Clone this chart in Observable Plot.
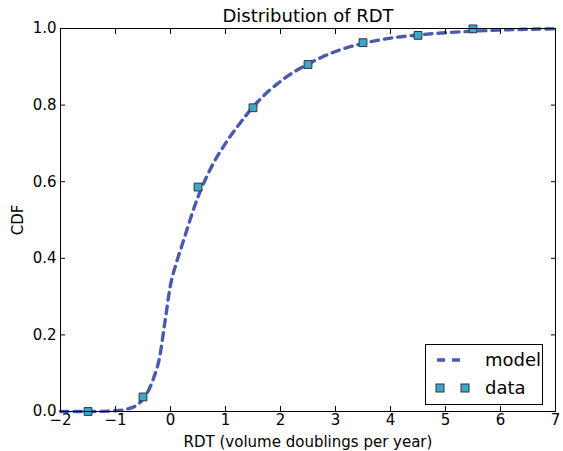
<!DOCTYPE html>
<html><head><meta charset="utf-8">
<script src="https://cdn.jsdelivr.net/npm/d3@7"></script>
<script src="https://cdn.jsdelivr.net/npm/@observablehq/plot@0.6"></script>
<style>
body{margin:0;background:#fff;font-family:"DejaVu Sans",sans-serif}
#wrap{position:relative;width:563px;height:451px}
#legend{position:absolute;left:425px;top:344px;width:118px;height:61px;border:1px solid #000;background:#fff;box-sizing:border-box}
#legend svg{display:block}
</style></head><body><div id="wrap"></div>
<script>
const titleText = "Distribution of RDT";
const xLabel = "RDT (volume doublings per year)";
const yLabel = "CDF";
const seriesNames = ["model", "data"];
const xTicks = [-2, -1, 0, 1, 2, 3, 4, 5, 6, 7];
const yTicks = [0, 0.2, 0.4, 0.6, 0.8, 1.0];

const modelX = [-2, -1.5, -1.0, -0.8, -0.6, -0.5, -0.4, -0.3, -0.2, -0.1, 0, 0.1, 0.2, 0.3, 0.4, 0.5, 0.75, 1.0, 1.25, 1.5, 1.75, 2.0, 2.25, 2.5, 2.75, 3.0, 3.5, 4.0, 4.5, 5.0, 5.5, 6.0, 6.5, 7.0];
const modelY = [0, 0, 0.002, 0.006, 0.018, 0.032, 0.055, 0.09, 0.14, 0.235, 0.33, 0.385, 0.43, 0.475, 0.52, 0.56, 0.64, 0.70, 0.75, 0.795, 0.832, 0.862, 0.887, 0.907, 0.925, 0.94, 0.961, 0.975, 0.983, 0.989, 0.993, 0.996, 0.998, 0.999];

const dataX = [-1.5, -0.5, 0.5, 1.5, 2.5, 3.5, 4.5, 5.5];
const dataY = [0.0, 0.038, 0.586, 0.793, 0.906, 0.963, 0.982, 0.999];

const model = modelX.map((x, i) => ({x, y: modelY[i]}));
const data = dataX.map((x, i) => ({x, y: dataY[i]}));

const lineColor = "#4b5aaf";
const dotFill = "#3aa8cb";
const fmtX = d => d < 0 ? "\u2212" + Math.abs(d) : String(d);

const plot = Plot.plot({
  width: 563, height: 451,
  marginLeft: 60, marginRight: 8, marginTop: 28, marginBottom: 40,
  style: {fontFamily: "DejaVu Sans", fontSize: "15px", color: "black", background: "white", overflow: "visible"},
  x: {domain: [-2, 7]},
  y: {domain: [0, 1]},
  marks: [
    Plot.line(model, {x: "x", y: "y", stroke: lineColor, strokeWidth: 3.4, strokeDasharray: "7.5,6", curve: "monotone-x"}),
    Plot.dot(data, {x: "x", y: "y", symbol: "square", r: 4.4, fill: dotFill, stroke: "#333", strokeWidth: 1}),
    Plot.frame({stroke: "black", strokeWidth: 1}),
    Plot.axisX(xTicks, {anchor: "bottom", tickSize: -5, tickPadding: 8, tickFormat: fmtX, fontSize: 15, label: xLabel, labelAnchor: "center", labelArrow: "none", labelOffset: 35}),
    Plot.axisX(xTicks, {anchor: "top", tickSize: -5, tickFormat: () => "", label: null}),
    Plot.axisY(yTicks, {anchor: "left", tickSize: -5, tickPadding: 9, tickFormat: d3.format(".1f"), fontSize: 15, label: yLabel, labelAnchor: "center", labelArrow: "none", labelOffset: 48}),
    Plot.axisY(yTicks, {anchor: "right", tickSize: -5, tickFormat: () => "", label: null}),
    Plot.text([titleText], {frameAnchor: "top", lineAnchor: "middle", dy: -12.5, fontSize: 18, text: d => d})
  ]
});
const wrap = document.getElementById("wrap");
wrap.appendChild(plot);

// legend
const leg = document.createElement("div");
leg.id = "legend";
const ns = "http://www.w3.org/2000/svg";
const svg = document.createElementNS(ns, "svg");
svg.setAttribute("width", 116); svg.setAttribute("height", 59);
svg.innerHTML = `
  <line x1="11" x2="34" y1="15" y2="15" stroke="${lineColor}" stroke-width="3.4" stroke-dasharray="8,7"/>
  <rect x="10" y="39" width="8" height="8" fill="${dotFill}" stroke="#333" stroke-width="1"/>
  <rect x="35" y="39" width="8" height="8" fill="${dotFill}" stroke="#333" stroke-width="1"/>
  <text x="59" y="15" dy="0.35em" font-size="18" font-family="DejaVu Sans">${seriesNames[0]}</text>
  <text x="59" y="43" dy="0.35em" font-size="18" font-family="DejaVu Sans">${seriesNames[1]}</text>`;
leg.appendChild(svg);
wrap.appendChild(leg);
</script></body></html>
